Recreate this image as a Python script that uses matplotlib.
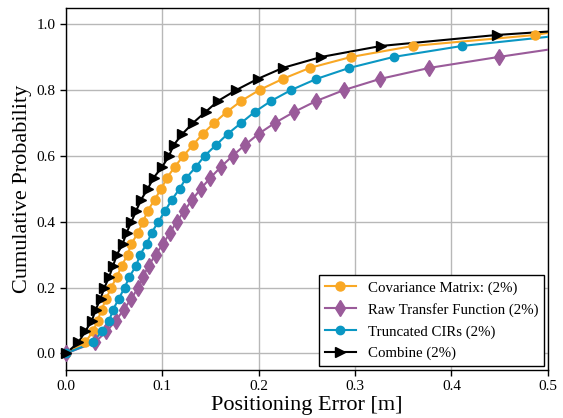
import numpy as np
import matplotlib
matplotlib.use("Agg")
import matplotlib.pyplot as plt

plt.rcParams['font.family'] = ['Liberation Serif', 'DejaVu Serif']
plt.rcParams['mathtext.fontset'] = 'stix'

# Marker positions: errors (m) at cumulative probability k/30
k_cov = np.arange(0, 30)
cov_err = [0.0, 0.020, 0.028, 0.033, 0.037, 0.042, 0.047, 0.053, 0.058, 0.064, 0.068,
           0.075, 0.080, 0.085, 0.092, 0.099, 0.105, 0.113, 0.122, 0.132, 0.142,
           0.154, 0.167, 0.182, 0.201, 0.225, 0.253, 0.296, 0.360, 0.487]
k_raw = np.arange(0, 28)
raw_err = [0.0, 0.030, 0.042, 0.052, 0.060, 0.068, 0.075, 0.080, 0.086, 0.093, 0.101,
           0.108, 0.115, 0.123, 0.131, 0.140, 0.150, 0.161, 0.173, 0.186, 0.200,
           0.217, 0.237, 0.260, 0.289, 0.326, 0.377, 0.449]
k_tru = np.arange(0, 29)
tru_err = [0.0, 0.028, 0.037, 0.045, 0.049, 0.055, 0.061, 0.066, 0.073, 0.077, 0.084,
           0.089, 0.096, 0.103, 0.110, 0.118, 0.125, 0.135, 0.144, 0.156, 0.168,
           0.182, 0.196, 0.213, 0.234, 0.260, 0.294, 0.340, 0.411]
k_com = np.arange(0, 30)
com_err = [0.0, 0.013, 0.020, 0.027, 0.031, 0.036, 0.040, 0.045, 0.049, 0.053, 0.059,
           0.063, 0.068, 0.073, 0.078, 0.085, 0.091, 0.100, 0.107, 0.112, 0.121,
           0.132, 0.145, 0.158, 0.177, 0.199, 0.225, 0.265, 0.327, 0.447]
n_levels = 30
# CDF value at the right edge (x = 0.5)
edge_x = 0.5
cov_edge = 0.973
raw_edge = 0.922
tru_edge = 0.961
com_edge = 0.977

labels = ['Covariance Matrix: (2%)', 'Raw Transfer Function (2%)',
          'Truncated CIRs (2%)', 'Combine (2%)']
colors = ['#F9A825', '#9A5B9A', '#0A97C3', '#000000']
markers = ['o', 'd', 'o', '>']
msizes = [6.5, 8, 6, 7]

fig = plt.figure(figsize=(5.63, 4.18), dpi=100)
ax = fig.add_axes([0.117, 0.115, 0.856, 0.867])

series = [(k_cov, cov_err, cov_edge), (k_raw, raw_err, raw_edge),
          (k_tru, tru_err, tru_edge), (k_com, com_err, com_edge)]
for (k, err, edge), lab, c, m, ms in zip(series, labels, colors, markers, msizes):
    p = np.asarray(k) / n_levels
    xs = np.append(err, edge_x)
    ys = np.append(p, edge)
    ax.plot(xs, ys, color=c, lw=1.5, zorder=3)
    ax.plot(err, p, linestyle='none', marker=m, color=c, markersize=ms, zorder=4,
            clip_on=False)
    ax.plot([], [], color=c, lw=1.5, marker=m, markersize=ms, label=lab)

ax.set_xlim(0, 0.5)
ax.set_ylim(-0.05, 1.05)
ax.set_xticks([0.0, 0.1, 0.2, 0.3, 0.4, 0.5])
ax.set_yticks([0.0, 0.2, 0.4, 0.6, 0.8, 1.0])
ax.grid(True, color='#b8b8b8', lw=1.0)
ax.set_axisbelow(True)
ax.tick_params(labelsize=11, direction='out', length=4, width=1, colors='black')
ax.set_xlabel('Positioning Error [m]', fontsize=16, labelpad=2)
ax.set_ylabel('Cumulative Probability', fontsize=16, labelpad=3)
for s in ax.spines.values():
    s.set_linewidth(1.0)
    s.set_color('black')

leg = ax.legend(loc='lower right', fontsize=10.7, fancybox=False, framealpha=1,
                edgecolor='black', borderaxespad=0.25, handlelength=2.1,
                labelspacing=0.55)
leg.get_frame().set_linewidth(1.0)

fig.savefig('out.png', dpi=100)
